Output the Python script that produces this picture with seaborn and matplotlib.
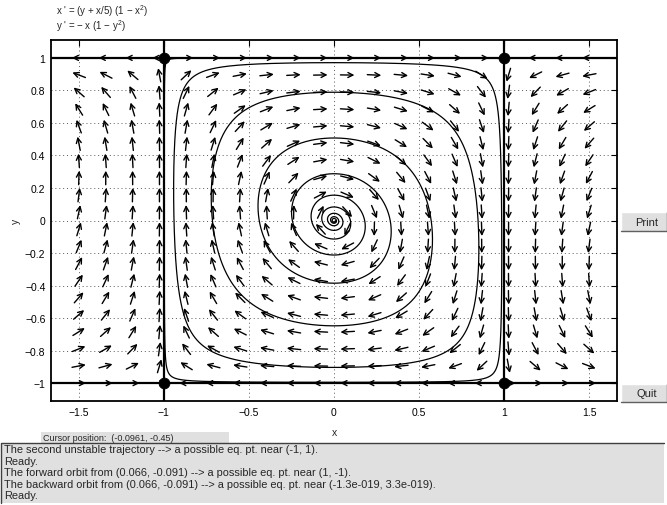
import numpy as np
import pandas as pd
import matplotlib
matplotlib.use("Agg")
import matplotlib.pyplot as plt
from matplotlib.patches import Rectangle
from matplotlib.lines import Line2D
import seaborn as sns

# --- system and plotted data -------------------------------------------------
eq_label_x = "x ' = (y + x/5) (1 \u2212 x$^2$)"
eq_label_y = "y ' = \u2212 x (1 \u2212 y$^2$)"

# equilibrium points (saddles at the corners of the invariant square)
eq_x = [-1.0, 1.0, -1.0, 1.0]
eq_y = [1.0, 1.0, -1.0, -1.0]

# orbit computed forward and backward from this point
orbit_start = (0.066, -0.091)

# direction-field sample grid
field_x = np.linspace(-1.5, 1.5, 20)
field_y = np.linspace(-1.0, 1.0, 20)

x_ticks = [-1.5, -1.0, -0.5, 0.0, 0.5, 1.0, 1.5]
y_ticks = [-1.0, -0.8, -0.6, -0.4, -0.2, 0.0, 0.2, 0.4, 0.6, 0.8, 1.0]
x_limits = (-1.664, 1.664)
y_limits = (-1.11, 1.11)

messages = [
    "The second unstable trajectory --> a possible eq. pt. near (-1, 1).",
    "Ready.",
    "The forward orbit from (0.066, -0.091) --> a possible eq. pt. near (1, -1).",
    "The backward orbit from (0.066, -0.091) --> a possible eq. pt. near (-1.3e-019, 3.3e-019).",
    "Ready.",
]
cursor_text = "Cursor position:  (-0.0961, -0.45)"


def rhs(p):
    x, y = p
    return np.array([(y + x / 5.0) * (1.0 - x * x), -x * (1.0 - y * y)])


def integrate(p0, dt, nmax, stop):
    p = np.array(p0, dtype=float)
    pts = [p.copy()]
    for _ in range(nmax):
        k1 = rhs(p)
        k2 = rhs(p + dt / 2 * k1)
        k3 = rhs(p + dt / 2 * k2)
        k4 = rhs(p + dt * k3)
        p = p + dt / 6 * (k1 + 2 * k2 + 2 * k3 + k4)
        pts.append(p.copy())
        if stop(p):
            break
    return np.array(pts)


forward = integrate(orbit_start, 0.01, 400000,
                    lambda p: np.hypot(p[0] - 1.0, p[1] + 1.0) < 0.03)
backward = integrate(orbit_start, -0.01, 400000,
                     lambda p: np.hypot(p[0], p[1]) < 0.008)

# --- figure -------------------------------------------------------------------
sns.set_style("white")
plt.rcParams["font.family"] = ["Liberation Sans", "DejaVu Sans"]
plt.rcParams["mathtext.default"] = "regular"

W, H = 667, 506
fig = plt.figure(figsize=(W / 100, H / 100), dpi=100)
fig.patch.set_facecolor("white")


def fxp(px):
    return px / W


def fyp(py):
    return 1.0 - py / H


ax = fig.add_axes([fxp(51), fyp(402), (617 - 51) / W, (402 - 41) / H])
ax.set_xlim(*x_limits)
ax.set_ylim(*y_limits)
ax.set_xticks(x_ticks)
ax.set_yticks(y_ticks)
ax.set_xticklabels(["\u22121.5", "\u22121", "\u22120.5", "0", "0.5", "1", "1.5"])
ax.set_yticklabels(["\u22121", "\u22120.8", "\u22120.6", "\u22120.4", "\u22120.2",
                    "0", "0.2", "0.4", "0.6", "0.8", "1"])
ax.grid(True, linestyle=(0, (1, 3)), color="0.35", linewidth=0.7)
ax.tick_params(direction="in", length=4, width=0.8, top=True, right=True,
               labelsize=7.5, colors="black", pad=4)
for sp in ax.spines.values():
    sp.set_color("black")
    sp.set_linewidth(1.3)

# invariant lines through the saddles
for yv in sorted(set(eq_y)):
    ax.axhline(yv, color="black", lw=1.6, zorder=3)
for xv in sorted(set(eq_x)):
    ax.axvline(xv, color="black", lw=1.6, zorder=3)

# computed orbit
orbit = pd.DataFrame(np.vstack([backward[::-1], forward[1:]]), columns=["x", "y"])
sns.lineplot(data=orbit, x="x", y="y", sort=False, estimator=None,
             color="black", lw=0.9, ax=ax, zorder=3)

sns.scatterplot(x=eq_x, y=eq_y, s=60, color="black", edgecolor="black",
                ax=ax, zorder=6)

# direction field: equal-length arrows in screen space
t0 = ax.transData.transform((0, 0))
t1 = ax.transData.transform((1, 1))
sx, sy = t1[0] - t0[0], t1[1] - t0[1]
arrow_px = 14.0
for yv in field_y:
    for xv in field_x:
        u, v = rhs((xv, yv))
        pu, pv = u * sx, v * sy
        n = np.hypot(pu, pv)
        if n == 0:
            continue
        dx = arrow_px * pu / n / sx
        dy = arrow_px * pv / n / sy
        ax.annotate("", xy=(xv + dx / 2, yv + dy / 2),
                    xytext=(xv - dx / 2, yv - dy / 2),
                    arrowprops=dict(arrowstyle="->", color="black", lw=1.0,
                                    shrinkA=0, shrinkB=0, mutation_scale=9),
                    zorder=4)

ax.set_xlabel("x", fontsize=7.5)
ax.set_ylabel("y", fontsize=7.5)
ax.xaxis.set_label_coords((334 - 51) / 566, (402 - 428) / 361)
ax.yaxis.set_label_coords((21 - 51) / 566, 0.5)

# equations above the axes
fig.text(fxp(56), fyp(11), eq_label_x, fontsize=7.0, va="center", ha="left")
fig.text(fxp(56), fyp(26), eq_label_y, fontsize=7.0, va="center", ha="left")

# --- window controls ----------------------------------------------------------
panel = "#e0e0e0"


def button(x0, y0, x1, y1, label):
    fig.add_artist(Rectangle((fxp(x0), fyp(y1)), (x1 - x0) / W, (y1 - y0) / H,
                             transform=fig.transFigure, facecolor=panel,
                             edgecolor="none"))
    fig.add_artist(Line2D([fxp(x0), fxp(x0), fxp(x1)], [fyp(y1), fyp(y0), fyp(y0)],
                          transform=fig.transFigure, color="white", lw=1))
    fig.add_artist(Line2D([fxp(x0), fxp(x1 - 0.5), fxp(x1 - 0.5)],
                          [fyp(y1), fyp(y1), fyp(y0)],
                          transform=fig.transFigure, color="#606060", lw=1))
    fig.text(fxp((x0 + x1) / 2 + 3), fyp((y0 + y1) / 2), label, fontsize=8,
             ha="center", va="center")


button(621, 213, 667, 232, "Print")
button(621, 385, 667, 403, "Quit")

# cursor readout
fig.add_artist(Rectangle((fxp(41), fyp(444)), (229 - 41) / W, 11 / H,
                         transform=fig.transFigure, facecolor=panel,
                         edgecolor="none"))
fig.text(fxp(43), fyp(438.5), cursor_text, fontsize=6.5, va="center", ha="left")

# message box
fig.add_artist(Rectangle((fxp(1), fyp(504)), (664 - 1) / W, (504 - 444) / H,
                         transform=fig.transFigure, facecolor=panel,
                         edgecolor="none"))
fig.add_artist(Line2D([fxp(1), fxp(1), fxp(664)], [fyp(504), fyp(444), fyp(444)],
                      transform=fig.transFigure, color="#404040", lw=1))
for i, msg in enumerate(messages):
    fig.text(fxp(4), fyp(450 + 11.6 * i), msg, fontsize=7.9, va="center", ha="left")

fig.savefig("out.png", dpi=100, facecolor=fig.get_facecolor())
